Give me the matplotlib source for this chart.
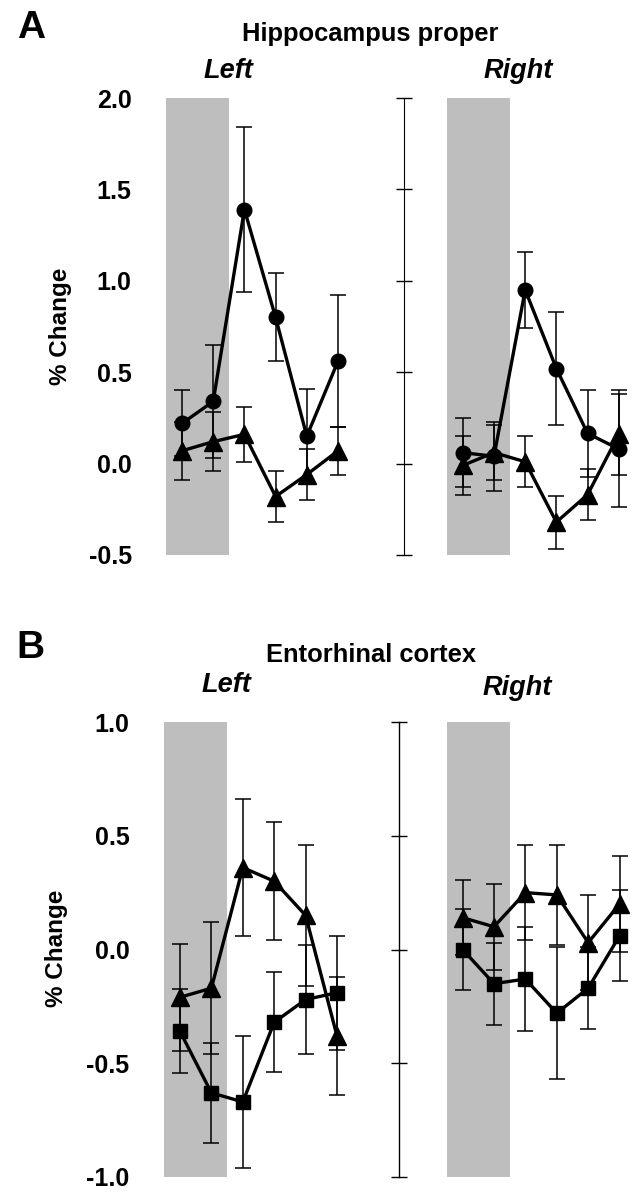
import matplotlib
matplotlib.use("Agg")
import matplotlib.pyplot as plt
from matplotlib.ticker import FormatStrFormatter

plt.rcParams['font.family'] = ['Liberation Sans', 'DejaVu Sans']
plt.rcParams['font.weight'] = 'bold'
plt.rcParams['axes.unicode_minus'] = False

# time points (left and right hemisphere)
x_left = [1, 2, 3, 4, 5, 6]
x_right = [10, 11, 12, 13, 14, 15]
shade_left = (0.5, 2.5)
shade_right = (9.5, 11.5)

# A: hippocampus proper
hip_circ_left = [0.22, 0.34, 1.39, 0.80, 0.15, 0.56]
hip_circ_left_err = [0.18, 0.31, 0.45, 0.24, 0.26, 0.36]
hip_tri_left = [0.07, 0.12, 0.16, -0.18, -0.06, 0.07]
hip_tri_left_err = [0.16, 0.16, 0.15, 0.14, 0.14, 0.13]
hip_circ_right = [0.06, 0.04, 0.95, 0.52, 0.165, 0.08]
hip_circ_right_err = [0.19, 0.19, 0.21, 0.31, 0.24, 0.32]
hip_tri_right = [-0.01, 0.06, 0.01, -0.32, -0.17, 0.16]
hip_tri_right_err = [0.16, 0.15, 0.14, 0.145, 0.14, 0.22]

# B: entorhinal cortex
ent_tri_left = [-0.21, -0.17, 0.36, 0.30, 0.15, -0.38]
ent_tri_left_err = [0.235, 0.29, 0.30, 0.26, 0.31, 0.26]
ent_sq_left = [-0.36, -0.63, -0.67, -0.32, -0.22, -0.19]
ent_sq_left_err = [0.185, 0.22, 0.29, 0.22, 0.24, 0.25]
ent_tri_right = [0.14, 0.10, 0.25, 0.24, 0.03, 0.20]
ent_tri_right_err = [0.165, 0.19, 0.21, 0.22, 0.21, 0.21]
ent_sq_right = [0.00, -0.15, -0.13, -0.28, -0.17, 0.06]
ent_sq_right_err = [0.18, 0.18, 0.23, 0.29, 0.18, 0.20]

hip_ticks = [-0.5, 0.0, 0.5, 1.0, 1.5, 2.0]
ent_ticks = [-1.0, -0.5, 0.0, 0.5, 1.0]

W, H = 643, 1199
fig = plt.figure(figsize=(W / 100, H / 100), dpi=100)

MS = {'o': 10.5, '^': 12.5, 's': 9.5}


def series(ax, x, y, err, marker):
    ax.errorbar(x, y, yerr=err, fmt='none', ecolor='black', elinewidth=1.1,
                capsize=5.5, capthick=1.1, zorder=3)
    ax.plot(x, y, color='black', lw=2.4, marker=marker, ms=MS[marker],
            mec='black', mfc='black', zorder=4)


def setup(ax, ylim, ticks, bar_pos):
    ax.set_xlim(0.5, 15.6)
    ax.set_ylim(*ylim)
    ax.axvspan(*shade_left, color='#bebebe', lw=0, zorder=1)
    ax.axvspan(*shade_right, color='#bebebe', lw=0, zorder=1)
    for s in ax.spines.values():
        s.set_visible(False)
    ax.set_xticks([])
    ax.set_yticks(ticks)
    ax.yaxis.set_major_formatter(FormatStrFormatter('%.1f'))
    ax.tick_params(axis='y', length=0, pad=25, labelsize=18)
    # scale bar for the right hemisphere
    sec = ax.secondary_yaxis(bar_pos)
    sec.set_yticks(ticks)
    sec.set_yticklabels([])
    sec.tick_params(axis='y', direction='inout', length=11, width=1.0)
    sec.spines['left'].set_linewidth(1.0)


# panel A
axA = fig.add_axes([166.4 / W, 1 - 555 / H, 471.1 / W, 457 / H])
setup(axA, (-0.5, 2.0), hip_ticks, (8.1 - 0.5) / 15.1)
series(axA, x_left, hip_tri_left, hip_tri_left_err, '^')
series(axA, x_left, hip_circ_left, hip_circ_left_err, 'o')
series(axA, x_right, hip_tri_right, hip_tri_right_err, '^')
series(axA, x_right, hip_circ_right, hip_circ_right_err, 'o')

# panel B
axB = fig.add_axes([164.3 / W, 1 - 1177 / H, 474.1 / W, 455 / H])
setup(axB, (-1.0, 1.0), ent_ticks, (7.97 - 0.5) / 15.1)
series(axB, x_left, ent_sq_left, ent_sq_left_err, 's')
series(axB, x_left, ent_tri_left, ent_tri_left_err, '^')
series(axB, x_right, ent_sq_right, ent_sq_right_err, 's')
series(axB, x_right, ent_tri_right, ent_tri_right_err, '^')

# labels
fig.text(31 / W, 1 - 28 / H, 'A', fontsize=28, ha='center', va='center')
fig.text(30 / W, 1 - 648 / H, 'B', fontsize=28, ha='center', va='center')
fig.text(370 / W, 1 - 34 / H, 'Hippocampus proper', fontsize=18.4, ha='center', va='center')
fig.text(371 / W, 1 - 655 / H, 'Entorhinal cortex', fontsize=18.4, ha='center', va='center')
fig.text(228 / W, 1 - 71 / H, 'Left', fontsize=19.5, style='italic', ha='center', va='center')
fig.text(518 / W, 1 - 71 / H, 'Right', fontsize=19.5, style='italic', ha='center', va='center')
fig.text(226 / W, 1 - 685 / H, 'Left', fontsize=19.5, style='italic', ha='center', va='center')
fig.text(517 / W, 1 - 688 / H, 'Right', fontsize=19.5, style='italic', ha='center', va='center')
fig.text(60 / W, 1 - 326 / H, '% Change', fontsize=17.5, rotation=90, ha='center', va='center')
fig.text(57 / W, 1 - 948 / H, '% Change', fontsize=17.5, rotation=90, ha='center', va='center')

fig.savefig('out.png', dpi=100)
